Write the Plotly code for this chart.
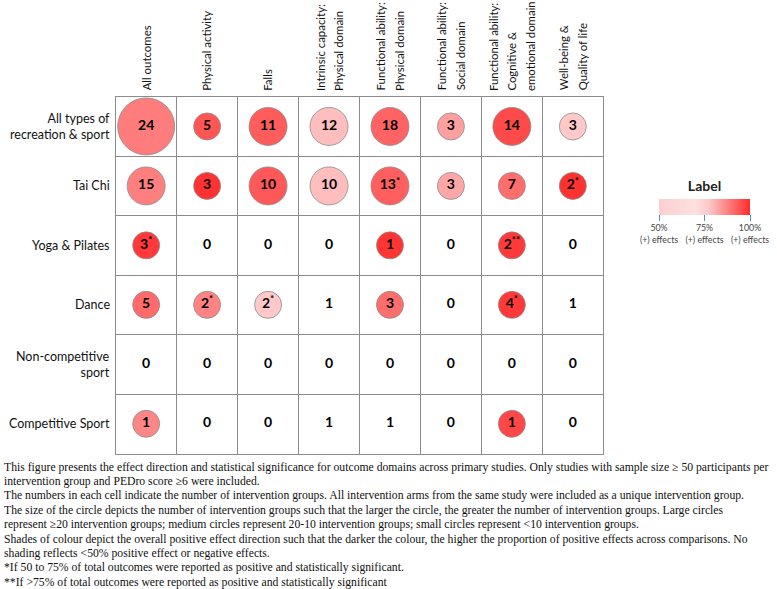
import plotly.graph_objects as go

# ---------------- data ----------------
outcomes = [
    "All outcomes",
    "Physical activity",
    "Falls",
    "Intrinsic capacity:<br>Physical domain",
    "Functional ability:<br>Physical domain",
    "Functional ability:<br>Social domain",
    "Functional ability:<br>Cognitive &<br>emotional domain",
    "Well-being &<br>Quality of life",
]
interventions = [
    "All types of<br>recreation & sport",
    "Tai Chi",
    "Yoga & Pilates",
    "Dance",
    "Non-competitive<br>sport",
    "Competitive Sport",
]
# number of intervention groups
counts = [
    [24, 5, 11, 12, 18, 3, 14, 3],
    [15, 3, 10, 10, 13, 3, 7, 2],
    [3, 0, 0, 0, 1, 0, 2, 0],
    [5, 2, 2, 1, 3, 0, 4, 1],
    [0, 0, 0, 0, 0, 0, 0, 0],
    [1, 0, 0, 1, 1, 0, 1, 0],
]
# proportion of positive effects (None = no shading, <50%)
positive_share = [
    [0.74, 0.85, 0.83, 0.55, 0.81, 0.64, 0.88, 0.52],
    [0.73, 0.95, 0.84, 0.55, 0.82, 0.62, 0.78, 0.95],
    [0.93, None, None, None, 0.94, None, 0.93, None],
    [0.79, 0.72, 0.52, None, 0.78, None, 0.93, None],
    [None, None, None, None, None, None, None, None],
    [0.71, None, None, None, None, None, 0.89, None],
]
# statistical significance flags
significance = [
    ["", "", "", "", "", "", "", ""],
    ["", "", "", "", "*", "", "", "*"],
    ["*", "", "", "", "", "", "**", ""],
    ["", "*", "*", "", "", "", "*", ""],
    ["", "", "", "", "", "", "", ""],
    ["", "", "", "", "", "", "", ""],
]
legend_ticks = [0.5, 0.75, 1.0]
legend_ticktext = ["50%<br>(+) effects", "75%<br>(+) effects", "100%<br>(+) effects"]

caption_lines = [
    "This figure presents the effect direction and statistical significance for outcome domains across primary studies. Only studies with sample size \u2265 50 participants per",
    "intervention group and PEDro score \u22656 were included.",
    "The numbers in each cell indicate the number of intervention groups. All intervention arms from the same study were included as a unique intervention group.",
    "The size of the circle depicts the number of intervention groups such that the larger the circle, the greater the number of intervention groups. Large circles",
    "represent \u226520 intervention groups; medium circles represent 20-10 intervention groups; small circles represent <10 intervention groups.",
    "Shades of colour depict the overall positive effect direction such that the darker the colour, the higher the proportion of positive effects across comparisons. No",
    "shading reflects <50% positive effect or negative effects.",
    "*If 50 to 75% of total outcomes were reported as positive and statistically significant.",
    "**If >75% of total outcomes were reported as positive and statistically significant",
]

# ---------------- geometry ----------------
W, H = 777, 589
gx0, gx1 = 115.7, 603.3      # grid edges in pixels
gy0, gy1 = 96.7, 453.5
FONT = "Lato"


def px_x(v):
    return v / W


def px_y(v):
    return 1 - v / H


def circle_size(n):
    if n >= 20:
        return 57
    if n >= 10:
        return 38
    return 27


mx, my, msize, mcol = [], [], [], []
tx, ty, ttext = [], [], []
for r, row in enumerate(counts):
    for c, n in enumerate(row):
        xc, yc = c + 0.5, r + 0.5
        label = "<b>%d</b>" % n
        if significance[r][c]:
            label += "<sup><b>%s</b></sup>" % significance[r][c]
        tx.append(xc)
        ty.append(yc)
        ttext.append(label)
        p = positive_share[r][c]
        if p is not None:
            mx.append(xc)
            my.append(yc)
            msize.append(circle_size(n))
            mcol.append(p)

fig = go.Figure()
fig.add_trace(go.Scatter(
    x=mx, y=my, mode="markers", hoverinfo="skip", showlegend=False,
    marker=dict(size=msize, color=mcol, cmin=0.5, cmax=1.0,
                colorscale=[[0, "#FFD0D0"], [1, "#FF2020"]],
                line=dict(color="#8C8C8C", width=0.8), opacity=1),
))
fig.add_trace(go.Scatter(
    x=tx, y=ty, mode="text", text=ttext, hoverinfo="skip", showlegend=False,
    textfont=dict(family=FONT, size=14, color="black"),
))
# legend colour bar
fig.add_trace(go.Scatter(
    x=[None, None], y=[None, None], mode="markers", showlegend=False,
    marker=dict(color=[0.5, 1.0], cmin=0.5, cmax=1.0,
                colorscale=[[0, "#FDCFCF"], [0.4, "#FDE0E0"], [0.55, "#FCC8C8"], [1, "#FF2B2B"]],
                showscale=True,
                colorbar=dict(
                    orientation="h", x=px_x(704.5), xanchor="center",
                    y=px_y(172), yanchor="top",
                    len=111, lenmode="pixels", thickness=16,
                    outlinewidth=0,
                    title=dict(text="<b>Label</b>", side="top",
                               font=dict(family=FONT, size=14, color="#222")),
                    tickvals=legend_ticks, ticktext=legend_ticktext,
                    ticks="outside", ticklen=6, tickcolor="#5B8BD0", tickwidth=1,
                    tickfont=dict(family=FONT, size=8.8, color="#444"),
                )),
))

grid_color = "#8C8C8C"
fig.update_xaxes(range=[0, 8], domain=[px_x(gx0), px_x(gx1)],
                 tickvals=list(range(9)), showticklabels=False, ticks="",
                 showgrid=True, gridcolor=grid_color, gridwidth=1, zeroline=False,
                 showline=True, mirror=True, linecolor=grid_color, linewidth=1,
                 fixedrange=True)
fig.update_yaxes(range=[6, 0], domain=[px_y(gy1), px_y(gy0)],
                 tickvals=list(range(7)), showticklabels=False, ticks="",
                 showgrid=True, gridcolor=grid_color, gridwidth=1, zeroline=False,
                 showline=True, mirror=True, linecolor=grid_color, linewidth=1,
                 fixedrange=True)

annotations = []
# column headers (rotated), one annotation per line
line_gap = 18.5
for c, lab in enumerate(outcomes):
    lines = lab.split("<br>")
    k = len(lines)
    for i, ln in enumerate(lines):
        off = (i - (k - 1) / 2) * line_gap
        annotations.append(dict(
            x=c + 0.5, xref="x", y=px_y(gy0 - 4), yref="paper",
            text=ln, textangle=-90, showarrow=False,
            xanchor="center", yanchor="bottom", xshift=off,
            font=dict(family=FONT, size=11.4, color="#111"),
        ))
# row labels
for r, lab in enumerate(interventions):
    annotations.append(dict(
        x=px_x(112), xref="paper", y=r + 0.5, yref="y",
        text=lab, showarrow=False, xanchor="right", yanchor="middle",
        align="right", font=dict(family=FONT, size=12.5, color="#111"),
    ))
# caption
cap_y0 = 467
cap_gap = 14.4
for i, ln in enumerate(caption_lines):
    annotations.append(dict(
        x=px_x(2), xref="paper", y=px_y(cap_y0 + i * cap_gap), yref="paper",
        text=ln, showarrow=False, xanchor="left", yanchor="middle", align="left",
        font=dict(family="Liberation Serif", size=11.7, color="#111"),
    ))

fig.update_layout(
    width=W, height=H, margin=dict(l=0, r=0, t=0, b=0),
    paper_bgcolor="white", plot_bgcolor="white",
    annotations=annotations,
)

fig.write_html("out.html", config={"displayModeBar": False},
               post_script="document.body.style.margin='0px';")
